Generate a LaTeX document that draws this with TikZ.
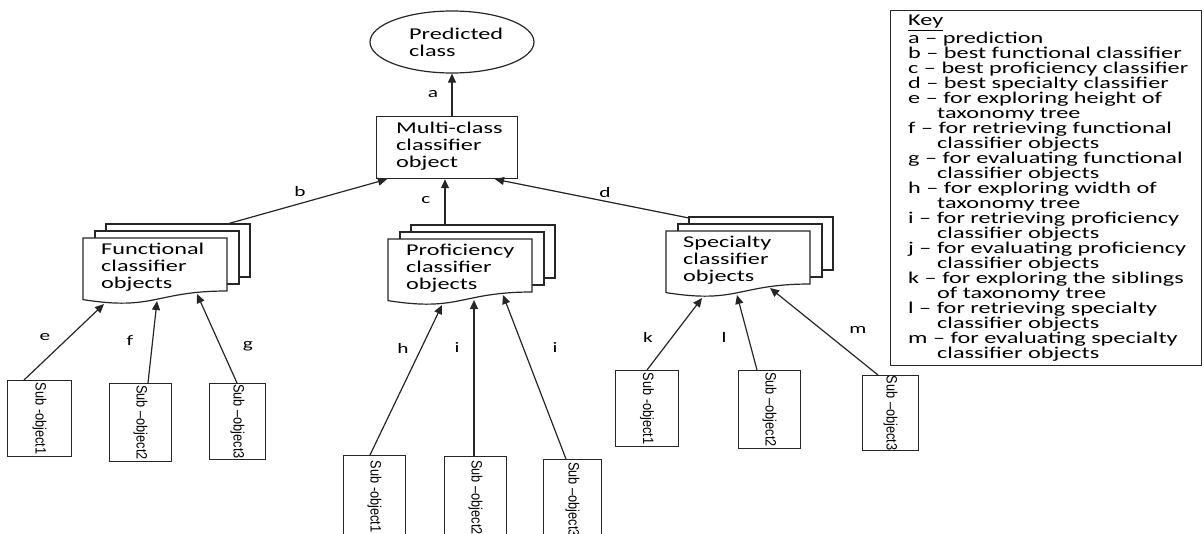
\documentclass[tikz,border=0pt]{standalone}
\usepackage{graphicx}
\usepackage{fontspec}
\setmainfont[FakeStretch=1.47]{Carlito}
\newfontfamily\subfont[FakeStretch=0.85]{Liberation Sans}
\usetikzlibrary{arrows.meta,calc,shapes.geometric}
\newcommand\subtxt[1]{\rotatebox{-90}{\subfont\fontsize{15}{15}\selectfont #1}}
\newcommand\docstack[2]{%
  \begin{scope}[shift={(#1,#2)}]
    \draw[page] (23,-14) rectangle ++(144,53);
    \draw[page] (12,-7) rectangle ++(144,53);
    \draw[page] (0,0) -- (144,0) -- (144,53) .. controls (72,53) and (72,73.1) .. (0,61.6) -- cycle;
  \end{scope}}
\begin{document}
\begin{tikzpicture}[x=1pt,y=-1pt,
  ln/.style={draw=black!85, line width=1.2pt},
  arr/.style={ln, -{Triangle[length=9pt,width=8pt]}},
  page/.style={draw=black!85, line width=1.2pt, fill=white},
  txt/.style={font=\fontsize{16.5}{17}\selectfont, align=left, inner sep=0pt, anchor=base west},
  keytxt/.style={font=\fontsize{16.5}{15}\selectfont, align=left, inner sep=0pt, anchor=base west},
  lbl/.style={font=\fontsize{14.5}{14.5}\selectfont, inner sep=0pt},
  subbox/.style={draw=black!85, line width=1.2pt, inner sep=0pt, anchor=north west},
  box/.style={draw=black!85, line width=1.2pt, inner sep=0pt, anchor=north west}]
\useasboundingbox (0,0) rectangle (1204,533);

% top (text nodes anchored at the baseline of their last line)
\node[draw=black!85, line width=1.2pt, ellipse, minimum width=164pt, minimum height=62pt, inner sep=0pt] (pc) at (452,42) {};
\node[txt] (pct) at (409,56) {Predicted\\class};
\node[box, minimum width=141pt, minimum height=62pt] (mc) at (376,116) {};
\node[txt] (mct) at (396,167.5) {Multi-class\\classifier\\object};
\draw[arr] (mc.north -| pc.south) -- (pc.south);
\node[lbl] (la) at (433,94) {a};

% document stacks
\docstack{83}{238}
\docstack{388}{239}
\docstack{666}{231}
\node[txt] (funt) at (101,288) {Functional\\classifier\\objects};
\node[txt] (proft) at (406,289) {Proficiency\\classifier\\objects};
\node[txt] (spect) at (683,281) {Specialty\\classifier\\objects};

\coordinate (fb) at (227,224);
\coordinate (pcc) at (445,225);
\coordinate (sd) at (689,218);
\draw[arr] (fb) -- ([xshift=11pt]mc.south west);
\draw[arr] (pcc) -- ([xshift=69pt]mc.south west);
\draw[arr] (sd) -- ([xshift=119pt]mc.south west);
\node[lbl] (lb) at (300,192) {b};
\node[lbl] (lc) at (426,200) {c};
\node[lbl] (ld) at (605,193) {d};

% end points on document bottoms
\coordinate (fe) at (104,304);
\coordinate (ff) at (157,301);
\coordinate (fg) at (197,294);
\coordinate (ph) at (442,305);
\coordinate (pi) at (474,300);
\coordinate (pj) at (503,295);
\coordinate (sk) at (702,298);
\coordinate (sl) at (737,295);
\coordinate (sm) at (770,288);

% sub-objects
\node[subbox, minimum width=64pt, minimum height=76pt] (fs1) at (7,380) {\subtxt{Sub -object1}};
\node[subbox, minimum width=62pt, minimum height=78pt] (fs2) at (109,383) {\subtxt{Sub –object2}};
\node[subbox, minimum width=56pt, minimum height=76pt] (fs3) at (209,383) {\subtxt{Sub –object3}};
\node[subbox, minimum width=62pt, minimum height=82pt] (ps1) at (343,455) {\subtxt{Sub -object1}};
\node[subbox, minimum width=62pt, minimum height=82pt] (ps2) at (444,456) {\subtxt{Sub –object2}};
\node[subbox, minimum width=58pt, minimum height=80pt] (ps3) at (543,459) {\subtxt{Sub –object3}};
\node[subbox, minimum width=63pt, minimum height=76pt] (ss1) at (615,370) {\subtxt{Sub -object1}};
\node[subbox, minimum width=62pt, minimum height=78pt] (ss2) at (738,370) {\subtxt{Sub –object2}};
\node[subbox, minimum width=56pt, minimum height=75pt] (ss3) at (862,375) {\subtxt{Sub –object3}};

\draw[arr] ([xshift=17pt]fs1.north west) -- (fe);
\draw[arr] ([xshift=39pt]fs2.north west) -- (ff);
\draw[arr] ([xshift=28pt]fs3.north west) -- (fg);
\draw[arr] ([xshift=27pt]ps1.north west) -- (ph);
\draw[arr] ([xshift=30pt]ps2.north west) -- (pi);
\draw[arr] ([xshift=23pt]ps3.north west) -- (pj);
\draw[arr] ([xshift=32pt]ss1.north west) -- (sk);
\draw[arr] ([xshift=19pt]ss2.north west) -- (sl);
\draw[arr] ([xshift=16pt]ss3.north west) -- (sm);

\node[lbl] (le) at (45,337) {e};
\node[lbl] (lf) at (130,341) {f};
\node[lbl] (lg) at (248,346) {g};
\node[lbl] (lh) at (403,348) {h};
\node[lbl] (li1) at (457,348) {i};
\node[lbl] (li2) at (555,348) {i};
\node[lbl] (lk) at (648,337) {k};
\node[lbl] (ll) at (724,337) {l};
\node[lbl] (lm) at (858,330) {m};

% key
\node[box, minimum width=311pt, minimum height=355pt] (key) at (890,10) {};
\node[keytxt] (keyt) at (908,358) {\underline{Key}\\
a – prediction\\
b – best functional classifier\\
c – best proficiency classifier\\
d – best specialty classifier\\
e – for exploring height of\\
\hspace*{29pt}taxonomy tree\\
f – for retrieving functional\\
\hspace*{29pt}classifier objects\\
g – for evaluating functional\\
\hspace*{29pt}classifier objects\\
h – for exploring width of\\
\hspace*{29pt}taxonomy tree\\
i – for retrieving proficiency\\
\hspace*{29pt}classifier objects\\
j – for evaluating proficiency\\
\hspace*{29pt}classifier objects\\
k – for exploring the siblings\\
\hspace*{29pt}of taxonomy tree\\
l – for retrieving specialty\\
\hspace*{29pt}classifier objects\\
m – for evaluating specialty\\
\hspace*{29pt}classifier objects};
\end{tikzpicture}
\end{document}
